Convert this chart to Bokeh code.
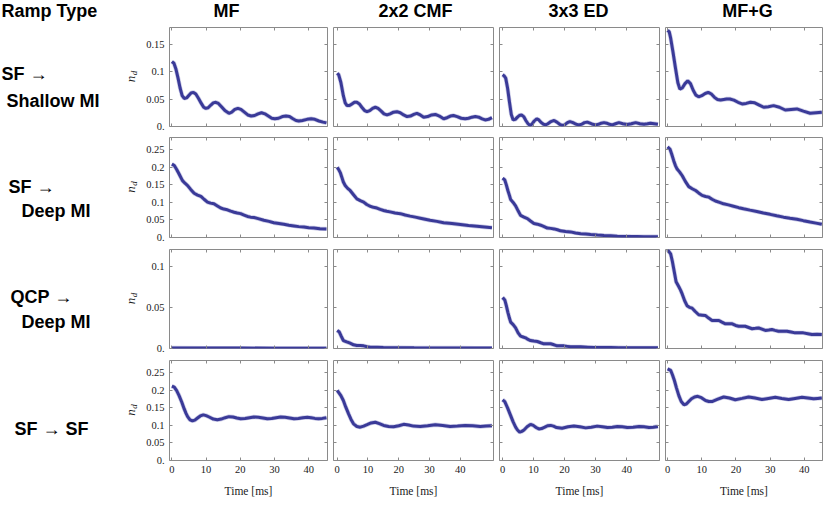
import math
from bokeh.plotting import figure
from bokeh.models import Range1d, FixedTicker, LinearAxis
from bokeh.layouts import row, column
from bokeh.embed import file_html
from bokeh.resources import INLINE
from bokeh.core.properties import value

# ---------------- texts ----------------
corner_title = "Ramp Type"
column_titles = ["MF", "2x2 CMF", "3x3 ED", "MF+G"]
row_titles = [["SF →", "Shallow MI"], ["SF →", "Deep MI"], ["QCP →", "Deep MI"], ["SF → SF"]]
x_label = "Time [ms]"
y_label_main = "n"
y_label_sub = "d"

# ---------------- ticks ----------------
x_ticks = [0, 10, 20, 30, 40]
x_tick_labels = ["0", "10", "20", "30", "40"]
y_ticks_r1 = [0, 0.05, 0.1, 0.15]
y_tick_labels_r1 = ["0.", "0.05", "0.1", "0.15"]
y_ticks_r2 = [0, 0.05, 0.1, 0.15, 0.2, 0.25]
y_tick_labels_r2 = ["0.", "0.05", "0.1", "0.15", "0.2", "0.25"]
y_ticks_r3 = [0, 0.05, 0.1]
y_tick_labels_r3 = ["0.", "0.05", "0.1"]
y_ticks_r4 = [0, 0.05, 0.1, 0.15, 0.2, 0.25]
y_tick_labels_r4 = ["0.", "0.05", "0.1", "0.15", "0.2", "0.25"]

# ---------------- data: row 1 (SF -> Shallow MI) ----------------
t_r1_mf = [0, 0.6, 1.2, 1.8, 2.4, 3.0, 3.6, 4.3, 5.0, 5.6, 6.3, 7.0, 7.8, 8.6, 9.3, 9.9, 10.6, 11.4, 12.1, 12.8,
           13.6, 14.5, 15.5, 16.7, 17.5, 18.4, 19.3, 20.2, 21.2, 22.2, 23.2, 24.2, 25.2, 26.2, 27.2, 28.2, 29.2,
           30.1, 31.2, 32.3, 33.4, 34.4, 35.4, 36.3, 37.1, 38.2, 39.5, 40.7, 41.8, 43.0, 44.2, 45.2]
nd_r1_mf = [0.118, 0.115, 0.104, 0.088, 0.070, 0.056, 0.051, 0.052, 0.057, 0.061, 0.062, 0.059, 0.051, 0.042,
            0.035, 0.033, 0.034, 0.039, 0.043, 0.044, 0.042, 0.036, 0.029, 0.024, 0.026, 0.031, 0.033, 0.031,
            0.026, 0.021, 0.019, 0.020, 0.023, 0.025, 0.023, 0.019, 0.015, 0.014, 0.015, 0.018, 0.019, 0.018,
            0.014, 0.011, 0.010, 0.011, 0.013, 0.014, 0.013, 0.010, 0.008, 0.0066]

t_r1_cmf = [0, 0.5, 1.2, 2.0, 2.6, 3.2, 4.0, 4.8, 5.6, 6.4, 7.2, 8.0, 8.9, 9.7, 10.6, 11.5, 12.4, 13.3, 14.3, 15.2,
            16.2, 17.2, 18.3, 19.4, 20.5, 21.6, 22.7, 23.8, 24.9, 25.9, 27.0, 28.1, 29.4, 30.7, 31.9, 33.2, 34.6,
            35.7, 36.8, 37.8, 39.0, 40.3, 41.6, 42.7, 43.8, 44.9, 46.0, 47.1, 48.1, 49.2, 50.3]
nd_r1_cmf = [0.097, 0.094, 0.080, 0.056, 0.043, 0.038, 0.038, 0.041, 0.044, 0.044, 0.041, 0.035, 0.029, 0.027,
             0.029, 0.033, 0.035, 0.033, 0.028, 0.023, 0.021, 0.023, 0.026, 0.027, 0.025, 0.021, 0.018, 0.019,
             0.022, 0.024, 0.021, 0.017, 0.018, 0.021, 0.022, 0.019, 0.014, 0.016, 0.019, 0.020, 0.018, 0.015,
             0.014, 0.015, 0.017, 0.018, 0.017, 0.014, 0.012, 0.013, 0.016]

t_r1_ed = [0, 0.5, 1.0, 1.6, 2.2, 2.8, 3.4, 4.1, 4.8, 5.4, 6.1, 6.8, 7.5, 8.2, 8.8, 9.4, 10.2, 11.0, 11.7, 12.5,
           13.2, 13.9, 14.6, 15.6, 16.6, 17.5, 18.4, 19.2, 20.0, 20.9, 21.7, 22.7, 23.7, 24.6, 25.5, 26.4, 27.3,
           28.2, 29.1, 30.0, 30.9, 31.8, 32.7, 33.6, 34.5, 35.4, 36.4, 37.5, 38.8, 40.2, 41.5, 42.9, 44.3, 45.6,
           46.7, 47.7, 48.9, 50.1]
nd_r1_ed = [0.094, 0.092, 0.088, 0.070, 0.045, 0.022, 0.012, 0.013, 0.017, 0.020, 0.021, 0.018, 0.011, 0.005,
            0.002, 0.004, 0.010, 0.014, 0.012, 0.007, 0.004, 0.003, 0.005, 0.009, 0.011, 0.008, 0.004, 0.002,
            0.003, 0.007, 0.009, 0.007, 0.004, 0.003, 0.004, 0.007, 0.008, 0.006, 0.004, 0.003, 0.004, 0.006,
            0.007, 0.006, 0.004, 0.003, 0.005, 0.007, 0.005, 0.0036, 0.005, 0.007, 0.005, 0.004, 0.005, 0.006,
            0.005, 0.004]

t_r1_mfg = [0, 0.5, 0.9, 1.6, 2.3, 3.0, 3.6, 4.3, 5.1, 5.9, 6.7, 7.5, 8.3, 9.1, 10.0, 11.0, 11.9, 12.8, 13.7, 14.6,
            15.5, 16.4, 17.3, 18.2, 19.4, 20.6, 21.8, 23.0, 24.2, 25.5, 26.8, 28.1, 29.5, 31.0, 32.7, 34.4, 36.1,
            37.8, 39.7, 41.7, 43.4, 45.1]
nd_r1_mfg = [0.175, 0.172, 0.161, 0.135, 0.107, 0.080, 0.068, 0.070, 0.078, 0.083, 0.078, 0.066, 0.057, 0.054,
             0.056, 0.060, 0.062, 0.059, 0.053, 0.049, 0.048, 0.049, 0.050, 0.050, 0.048, 0.044, 0.041, 0.042,
             0.044, 0.043, 0.039, 0.035, 0.036, 0.038, 0.035, 0.030, 0.031, 0.032, 0.028, 0.024, 0.025, 0.026]

# ---------------- data: row 2 (SF -> Deep MI) ----------------
t_r2_mf = [0, 0.7, 1.4, 2.1, 3.1, 3.9, 4.6, 5.5, 6.5, 7.5, 8.5, 9.4, 10.4, 11.3, 12.3, 13.3, 14.3, 15.2, 16.2,
           17.2, 18.2, 19.1, 20.1, 21.1, 22.1, 23.0, 24.0, 25.5, 26.9, 28.4, 29.8, 31.3, 32.7, 34.2, 35.7, 37.1,
           38.6, 40.0, 41.5, 43.3, 45.2]
nd_r2_mf = [0.209, 0.205, 0.194, 0.181, 0.162, 0.154, 0.148, 0.137, 0.126, 0.121, 0.117, 0.109, 0.101, 0.098,
            0.096, 0.090, 0.084, 0.081, 0.079, 0.075, 0.072, 0.070, 0.068, 0.064, 0.060, 0.058, 0.057, 0.053,
            0.049, 0.046, 0.042, 0.040, 0.038, 0.035, 0.033, 0.031, 0.030, 0.028, 0.027, 0.025, 0.0245]

t_r2_cmf = [0, 0.4, 1.0, 1.5, 2.0, 2.6, 3.4, 4.2, 5.3, 6.4, 7.5, 8.6, 9.6, 10.7, 11.8, 12.9, 14.0, 15.1, 16.1, 17.2,
            18.8, 20.5, 22.1, 23.7, 25.4, 27.0, 28.6, 30.2, 32.4, 34.6, 37.3, 40.0, 42.7, 45.4, 47.9, 50.3]
nd_r2_cmf = [0.200, 0.195, 0.185, 0.172, 0.158, 0.148, 0.140, 0.134, 0.122, 0.110, 0.105, 0.101, 0.094, 0.089,
             0.086, 0.084, 0.080, 0.077, 0.075, 0.073, 0.070, 0.068, 0.064, 0.061, 0.058, 0.055, 0.052, 0.049,
             0.046, 0.042, 0.040, 0.037, 0.034, 0.032, 0.030, 0.028]

t_r2_ed = [0, 0.7, 1.2, 1.7, 2.2, 2.6, 3.4, 4.2, 5.0, 5.8, 6.9, 8.0, 9.0, 10.1, 11.2, 12.3, 13.4, 14.4, 15.5, 16.6,
           17.7, 18.7, 20.3, 21.9, 23.5, 25.2, 26.8, 28.4, 30.6, 32.7, 34.9, 37.0, 39.2, 41.3, 43.5, 45.6, 47.8, 50.1]
nd_r2_ed = [0.169, 0.164, 0.150, 0.134, 0.120, 0.108, 0.100, 0.090, 0.076, 0.063, 0.058, 0.054, 0.047, 0.040,
            0.038, 0.035, 0.031, 0.027, 0.026, 0.0245, 0.022, 0.019, 0.017, 0.016, 0.013, 0.011, 0.010, 0.0085,
            0.007, 0.0057, 0.0048, 0.0038, 0.0032, 0.0028, 0.0026, 0.0024, 0.0022, 0.002]

t_r2_mfg = [0, 0.7, 1.2, 1.8, 2.3, 2.8, 3.5, 4.3, 5.2, 6.2, 7.2, 8.2, 9.1, 10.1, 11.1, 12.1, 13.0, 14.0, 15.2, 16.4,
            17.8, 19.3, 20.8, 22.2, 24.1, 26.1, 28.0, 30.0, 31.9, 33.9, 35.8, 37.8, 39.7, 41.7, 43.4, 45.1]
nd_r2_mfg = [0.258, 0.252, 0.238, 0.219, 0.205, 0.195, 0.187, 0.176, 0.160, 0.145, 0.139, 0.134, 0.127, 0.120,
             0.117, 0.115, 0.109, 0.104, 0.100, 0.096, 0.093, 0.089, 0.085, 0.082, 0.078, 0.074, 0.070, 0.066,
             0.062, 0.058, 0.055, 0.052, 0.048, 0.044, 0.041, 0.038]

# ---------------- data: row 3 (QCP -> Deep MI) ----------------
t_r3_mf = [0, 10, 20, 30, 40, 45.2]
nd_r3_mf = [0.0006, 0.0005, 0.0005, 0.0004, 0.0004, 0.0004]

t_r3_cmf = [0, 0.7, 1.3, 2.0, 3.1, 4.2, 5.3, 6.4, 7.5, 8.6, 9.7, 10.7, 13.0, 15.0, 20.0, 25.0, 30.0, 35.0, 40.0,
            45.0, 50.3]
nd_r3_cmf = [0.022, 0.020, 0.015, 0.0097, 0.008, 0.0065, 0.0045, 0.0036, 0.0035, 0.0032, 0.0022, 0.0016, 0.0014,
             0.0012, 0.0010, 0.0008, 0.0007, 0.0006, 0.0006, 0.0005, 0.0005]

t_r3_ed = [0, 0.7, 1.2, 1.7, 2.2, 2.6, 3.4, 4.2, 5.0, 5.8, 6.6, 7.4, 8.2, 9.0, 10.1, 11.2, 12.3, 13.3, 14.4, 15.5,
           16.6, 17.6, 18.7, 19.8, 20.9, 21.9, 23.5, 25.2, 27.3, 29.5, 32.2, 34.8, 37.5, 40.2, 45.0, 50.1]
nd_r3_ed = [0.062, 0.059, 0.052, 0.044, 0.037, 0.032, 0.029, 0.025, 0.019, 0.015, 0.014, 0.013, 0.011, 0.0097,
            0.009, 0.0085, 0.007, 0.0057, 0.0057, 0.0057, 0.0045, 0.0032, 0.0032, 0.0032, 0.0026, 0.002, 0.002,
            0.002, 0.0016, 0.0012, 0.0012, 0.0012, 0.001, 0.0008, 0.0008, 0.0008]

t_r3_mfg = [0, 0.9, 1.4, 1.8, 2.5, 3.3, 3.8, 4.3, 5.0, 5.7, 6.4, 7.2, 8.1, 9.1, 10.1, 11.1, 12.0, 13.0, 14.0, 15.0,
            15.9, 16.9, 17.9, 18.9, 19.9, 20.8, 21.7, 22.7, 23.7, 24.7, 25.7, 26.6, 27.6, 28.6, 29.6, 30.5, 31.4,
            32.4, 33.7, 34.9, 36.1, 37.3, 38.5, 39.7, 41.0, 42.2, 43.7, 45.1]
nd_r3_mfg = [0.120, 0.115, 0.106, 0.097, 0.081, 0.075, 0.071, 0.066, 0.058, 0.052, 0.050, 0.049, 0.045, 0.041,
             0.0405, 0.040, 0.037, 0.034, 0.034, 0.034, 0.032, 0.030, 0.030, 0.030, 0.028, 0.027, 0.027, 0.027,
             0.0255, 0.024, 0.0245, 0.025, 0.0235, 0.022, 0.0225, 0.023, 0.022, 0.021, 0.021, 0.021, 0.020, 0.019,
             0.019, 0.019, 0.018, 0.017, 0.0172, 0.017]

# ---------------- data: row 4 (SF -> SF) ----------------
t_r4_mf = [0, 0.7, 1.4, 2.1, 2.9, 3.6, 4.1, 4.6, 5.3, 6.0, 6.7, 7.5, 8.3, 9.2, 10.0, 10.9, 12.1, 13.3, 14.4, 15.6,
           16.7, 17.8, 19.0, 20.1, 21.4, 22.7, 24.0, 25.3, 26.6, 27.9, 29.2, 30.5, 31.8, 33.1, 34.4, 35.7, 37.0,
           38.3, 39.6, 40.7, 41.8, 42.9, 44.0, 45.2]
nd_r4_mf = [0.212, 0.209, 0.199, 0.185, 0.166, 0.147, 0.135, 0.125, 0.116, 0.113, 0.115, 0.121, 0.127, 0.130,
            0.128, 0.124, 0.118, 0.116, 0.118, 0.122, 0.125, 0.124, 0.121, 0.119, 0.120, 0.122, 0.124, 0.123,
            0.121, 0.119, 0.120, 0.122, 0.124, 0.123, 0.121, 0.119, 0.120, 0.122, 0.123, 0.122, 0.120, 0.119,
            0.120, 0.122]

t_r4_cmf = [0, 0.4, 1.2, 2.0, 2.8, 3.7, 4.5, 5.3, 6.4, 7.5, 8.6, 9.7, 11.0, 12.4, 13.7, 15.1, 16.7, 18.3, 20.0,
            21.6, 23.2, 24.8, 27.0, 29.4, 31.9, 34.3, 36.7, 39.1, 41.6, 44.0, 46.5, 48.4, 50.3]
nd_r4_cmf = [0.200, 0.195, 0.185, 0.171, 0.152, 0.133, 0.117, 0.1045, 0.097, 0.095, 0.098, 0.102, 0.107, 0.109,
             0.105, 0.100, 0.097, 0.096, 0.099, 0.103, 0.101, 0.098, 0.097, 0.099, 0.102, 0.100, 0.097, 0.098,
             0.100, 0.099, 0.097, 0.098, 0.099]

t_r4_ed = [0, 0.7, 1.6, 2.6, 3.4, 4.2, 4.8, 5.5, 6.2, 6.9, 7.9, 9.0, 9.9, 10.8, 11.7, 12.6, 13.6, 14.5, 15.5, 16.4,
           17.4, 19.2, 21.1, 23.0, 24.9, 26.8, 28.6, 30.5, 32.2, 33.8, 35.4, 37.0, 38.6, 40.2, 42.1, 44.0, 45.6,
           47.2, 48.6, 50.1]
nd_r4_ed = [0.173, 0.168, 0.150, 0.128, 0.110, 0.095, 0.087, 0.081, 0.083, 0.087, 0.096, 0.103, 0.100, 0.094,
            0.090, 0.091, 0.095, 0.099, 0.100, 0.098, 0.094, 0.092, 0.096, 0.098, 0.096, 0.093, 0.095, 0.098,
            0.096, 0.094, 0.095, 0.097, 0.096, 0.094, 0.095, 0.097, 0.096, 0.094, 0.095, 0.097]

t_r4_mfg = [0, 0.9, 1.4, 2.0, 2.6, 3.3, 4.0, 4.8, 5.5, 6.2, 7.0, 7.9, 8.8, 9.9, 11.1, 12.1, 13.0, 14.7, 16.4, 18.1,
            19.8, 21.8, 23.7, 25.6, 27.6, 29.5, 31.5, 33.4, 35.4, 37.3, 39.3, 41.0, 42.7, 43.9, 45.1]
nd_r4_mfg = [0.261, 0.257, 0.245, 0.228, 0.207, 0.185, 0.168, 0.159, 0.161, 0.168, 0.176, 0.181, 0.183, 0.179,
             0.171, 0.168, 0.168, 0.175, 0.181, 0.178, 0.173, 0.177, 0.181, 0.178, 0.174, 0.177, 0.180, 0.177,
             0.174, 0.177, 0.180, 0.178, 0.176, 0.177, 0.178]

series = [
    [(t_r1_mf, nd_r1_mf), (t_r1_cmf, nd_r1_cmf), (t_r1_ed, nd_r1_ed), (t_r1_mfg, nd_r1_mfg)],
    [(t_r2_mf, nd_r2_mf), (t_r2_cmf, nd_r2_cmf), (t_r2_ed, nd_r2_ed), (t_r2_mfg, nd_r2_mfg)],
    [(t_r3_mf, nd_r3_mf), (t_r3_cmf, nd_r3_cmf), (t_r3_ed, nd_r3_ed), (t_r3_mfg, nd_r3_mfg)],
    [(t_r4_mf, nd_r4_mf), (t_r4_cmf, nd_r4_cmf), (t_r4_ed, nd_r4_ed), (t_r4_mfg, nd_r4_mfg)],
]
y_ticks = [y_ticks_r1, y_ticks_r2, y_ticks_r3, y_ticks_r4]
y_tick_labels = [y_tick_labels_r1, y_tick_labels_r2, y_tick_labels_r3, y_tick_labels_r4]

# ---------------- ranges & layout (styles) ----------------
y_max = [0.18, 0.285, 0.1203, 0.285]
x_ranges = [(-0.7, 45.5), (-1.2, 50.8), (-1.0, 50.6), (-0.6, 45.3)]
frame_w = [158, 160, 160, 157]
border_l = [29, 3, 3, 3]
border_r = [3, 3, 3, 8]
frame_h = [99, 100, 99, 100]
border_t = [1, 4, 5, 5]
border_b = [7, 7, 7, 42]
TITLE_H = 26
LABEL_W = 140
TOTAL_H = TITLE_H + sum(border_t) + sum(frame_h) + sum(border_b)
TOTAL_W = LABEL_W + sum(border_l) + sum(frame_w) + sum(border_r)

FRAME = "#8a8a8a"
LINE = "#3a3a98"
SERIF = "Liberation Serif"
SANS = "Liberation Sans"
TXT_SHIFT = 7  # compensation of the rendered text baseline


def style_axis(ax, ticks, labels, show_labels):
    ax.ticker = FixedTicker(ticks=ticks)
    ax.axis_line_color = None
    ax.major_tick_line_color = FRAME
    ax.major_tick_in = 3
    ax.major_tick_out = 0
    ax.minor_tick_line_color = None
    if show_labels:
        ax.major_label_overrides = dict(zip(ticks, labels))
        ax.major_label_text_font = SERIF
        ax.major_label_text_font_size = "10.5px"
        ax.major_label_text_color = "#1a1a1a"
        ax.major_label_standoff = 5
    else:
        ax.major_label_text_font_size = "0px"
        ax.major_label_standoff = 0
        ax.major_label_overrides = {tk: "" for tk in ticks}


rows = []
for r in range(4):
    figs = []
    for c in range(4):
        p = figure(frame_width=frame_w[c], frame_height=frame_h[r],
                   x_range=Range1d(*x_ranges[c]), y_range=Range1d(0, y_max[r]),
                   output_backend="svg", toolbar_location=None,
                   min_border_left=border_l[c], min_border_right=border_r[c],
                   min_border_top=border_t[r], min_border_bottom=border_b[r])
        p.outline_line_color = FRAME
        p.outline_line_width = 1
        p.xgrid.visible = False
        p.ygrid.visible = False
        p.background_fill_color = "white"
        p.border_fill_color = "white"
        style_axis(p.xaxis[0], x_ticks, x_tick_labels, r == 3)
        style_axis(p.yaxis[0], y_ticks[r], y_tick_labels[r], c == 0)
        if r == 3:
            p.xaxis[0].axis_label = x_label
            p.xaxis[0].axis_label_text_font = SERIF
            p.xaxis[0].axis_label_text_font_style = "normal"
            p.xaxis[0].axis_label_text_font_size = "11.5px"
            p.xaxis[0].axis_label_text_color = "#1a1a1a"
            p.xaxis[0].axis_label_standoff = 9
        top = LinearAxis()
        style_axis(top, x_ticks, x_tick_labels, False)
        p.add_layout(top, "above")
        right = LinearAxis()
        style_axis(right, y_ticks[r], y_tick_labels[r], False)
        p.add_layout(right, "right")
        t, nd = series[r][c]
        p.line(t, nd, line_color="#a9a9d6", line_width=4.4, line_alpha=0.6)
        p.line(t, nd, line_color=LINE, line_width=3)
        figs.append(p)
    rows.append(row(*figs, spacing=0))
grid = column(*rows, spacing=0)

# ---------------- label column (coordinates = picture pixels) ----------------
label_fig = figure(width=LABEL_W, height=TOTAL_H - TITLE_H, x_range=Range1d(0, LABEL_W),
                   y_range=Range1d(TOTAL_H, TITLE_H),
                   output_backend="svg", toolbar_location=None, min_border=0,
                   x_axis_location=None, y_axis_location=None)
label_fig.grid.visible = False
label_fig.outline_line_color = None
row_label_x = [[1, 6], [8, 21], [10, 21], [14]]
row_label_y = [[80, 107], [193, 217], [303, 328], [435]]
lx, ly, lt = [], [], []
for r in range(4):
    for k, txt in enumerate(row_titles[r]):
        lx.append(row_label_x[r][k]); ly.append(row_label_y[r][k] - TXT_SHIFT); lt.append(txt)
label_fig.text(x=lx, y=ly, text=lt, text_font=value(SANS), text_font_style="bold",
               text_font_size="18px", text_color="black", text_align="left", text_baseline="alphabetic")
row_center = [76.5, 187, 298.5, 410]
label_fig.text(x=[130] * 4, y=[yc + 2 for yc in row_center], text=[y_label_main] * 4,
               angle=math.pi / 2, text_font=value(SERIF), text_font_style="italic",
               text_font_size="13px", text_color="#1a1a1a", text_align="center", text_baseline="middle")
label_fig.text(x=[133] * 4, y=[yc - 4 for yc in row_center], text=[y_label_sub] * 4,
               angle=math.pi / 2, text_font=value(SERIF), text_font_style="italic",
               text_font_size="9px", text_color="#1a1a1a", text_align="center", text_baseline="middle")

# ---------------- title row ----------------
title_fig = figure(width=TOTAL_W, height=TITLE_H, x_range=Range1d(0, TOTAL_W), y_range=Range1d(TITLE_H, 0),
                   output_backend="svg", toolbar_location=None, min_border=0,
                   x_axis_location=None, y_axis_location=None)
title_fig.grid.visible = False
title_fig.outline_line_color = None
title_fig.text(x=[1], y=[17 - TXT_SHIFT], text=[corner_title], text_font=value(SANS), text_font_style="bold",
               text_font_size="18px", text_color="black", text_align="left", text_baseline="alphabetic")
title_fig.text(x=[226, 415, 578, 747], y=[17 - TXT_SHIFT] * 4, text=column_titles, text_font=value(SANS),
               text_font_style="bold", text_font_size="18px", text_color="black",
               text_align="center", text_baseline="alphabetic")

root = column(title_fig, row(label_fig, grid, spacing=0), spacing=0)
open("out.html", "w").write(file_html(root, INLINE))
